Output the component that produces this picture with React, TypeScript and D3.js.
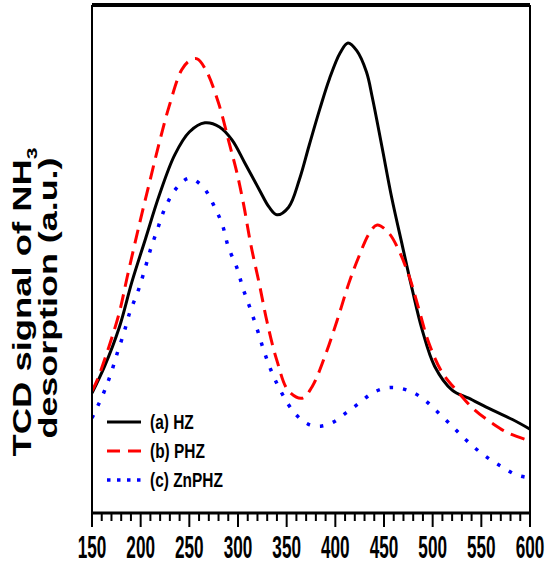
import React from "react";
import * as d3 from "d3";

const temps = [150, 600];
const xTicks = [150, 200, 250, 300, 350, 400, 450, 500, 550, 600];

const hzX = [150, 163, 178, 191, 205, 219, 235, 250, 266, 281, 294, 307, 322, 332, 340, 352, 363, 373, 384, 394, 405, 413, 422, 432, 438, 448, 458, 469, 479, 489, 502, 520, 537, 561, 582, 600];
const hzY = [23.6, 28.9, 36.5, 45.5, 54.0, 62.5, 70.5, 75.0, 76.8, 76.0, 73.4, 68.9, 63.6, 60.2, 58.7, 60.2, 65.6, 72.3, 79.5, 85.5, 90.6, 92.5, 91.0, 86.8, 81.8, 72.0, 62.0, 52.5, 44.0, 36.2, 28.9, 24.2, 22.6, 20.3, 18.4, 16.5];

const phzX = [150, 155, 167, 178, 186, 198, 209, 219, 229, 242, 250, 258, 267, 280, 291, 299, 306, 313, 322, 330, 340, 352, 366, 376, 389, 402, 414, 424, 435, 443, 455, 465, 476, 486, 496, 510, 527, 543, 561, 578, 600];
const phzY = [24.0, 26.0, 32.5, 39.4, 46.3, 56.3, 65.0, 72.8, 79.9, 87.2, 89.0, 89.4, 87.2, 80.7, 72.8, 66.9, 60.5, 53.0, 45.0, 37.5, 30.0, 24.0, 22.6, 24.8, 30.7, 38.0, 45.3, 50.4, 55.1, 56.7, 55.1, 51.8, 46.5, 40.0, 33.5, 27.6, 23.6, 20.3, 17.7, 15.7, 14.2];

const znX = [150, 161, 169, 176, 183, 189, 197, 204, 210, 217, 225, 237, 250, 264, 275, 284, 290, 299, 305, 313, 320, 327, 335, 345, 358, 372, 385, 398, 411, 425, 438, 452, 465, 479, 492, 505, 519, 532, 546, 560, 573, 586, 600];
const znY = [18.7, 23.2, 27.2, 31.5, 35.6, 39.6, 43.5, 47.8, 51.8, 55.7, 60.0, 64.0, 65.9, 64.2, 60.6, 56.7, 52.4, 48.2, 44.3, 40.0, 36.0, 31.7, 27.6, 23.6, 19.7, 17.5, 17.1, 17.9, 19.7, 21.7, 23.6, 24.6, 24.6, 23.8, 22.2, 19.9, 17.3, 14.8, 12.4, 10.4, 8.9, 7.5, 6.9];

const seriesNames = ["(a) HZ", "(b) PHZ", "(c) ZnPHZ"];
const seriesColors = ["#000000", "#ff0000", "#0000ff"];

export default function App() {
  const L = 92, R = 530, T = 5, B = 513;
  const x = d3.scaleLinear().domain(temps).range([L, R]);
  const y = d3.scaleLinear().domain([0, 100]).range([B, T]);
  const line = d3
    .line<[number, number]>()
    .x((d) => x(d[0]))
    .y((d) => y(d[1]))
    .curve(d3.curveCatmullRom.alpha(0.5));
  const zip = (a: number[], b: number[]) => a.map((v, i) => [v, b[i]] as [number, number]);
  const series = [zip(hzX, hzY), zip(phzX, phzY), zip(znX, znY)];
  const dashes = [undefined, "14,8", "3.5,10"];
  const widths = [3, 3, 3.5];
  const minor = d3.range(150, 601, 10);
  const font = "'Liberation Sans', Arial, sans-serif";

  return (
    <svg width={550} height={565} style={{ position: "absolute", left: 0, top: 0, background: "#fff" }}>
      <rect x={0} y={0} width={550} height={565} fill="#fff" />
      <defs>
        <clipPath id="plot">
          <rect x={L} y={T} width={R - L} height={B - T} />
        </clipPath>
      </defs>
      <g clipPath="url(#plot)">
        {series.map((s, i) => (
          <path
            key={i}
            d={line(s) || ""}
            fill="none"
            stroke={seriesColors[i]}
            strokeWidth={widths[i]}
            strokeDasharray={dashes[i]}
          />
        ))}
      </g>
      {/* frame */}
      <line x1={L} x2={R} y1={T} y2={T} stroke="#000" strokeWidth={4} />
      <line x1={L} x2={L} y1={T} y2={B} stroke="#000" strokeWidth={2} />
      <line x1={R} x2={R} y1={T} y2={B} stroke="#000" strokeWidth={2} />
      <line x1={L - 1} x2={R + 1} y1={B} y2={B} stroke="#000" strokeWidth={3} />
      {minor.map((v) => (
        <line key={"m" + v} x1={x(v)} x2={x(v)} y1={B} y2={B + (v % 50 === 0 ? 14 : 8)} stroke="#000" strokeWidth={2} />
      ))}
      {xTicks.map((v) => (
        <g key={"t" + v} transform={`translate(${x(v)},558) scale(0.78,1.4)`}>
          <text textAnchor="middle" fontFamily={font} fontWeight="bold" fontSize={22} fill="#000">
            {v}
          </text>
        </g>
      ))}
      {/* y label */}
      <g transform="translate(31,302) rotate(-90) scale(1.4,1)">
        <text textAnchor="middle" fontFamily={font} fontWeight="bold" fontSize={26} fill="#000">
          TCD signal of NH<tspan fontSize={15} dy={6}>3</tspan>
        </text>
      </g>
      <g transform="translate(57,298) rotate(-90) scale(1.38,1)">
        <text textAnchor="middle" fontFamily={font} fontWeight="bold" fontSize={26} fill="#000">
          desorption (a.u.)
        </text>
      </g>
      {/* legend */}
      {seriesNames.map((n, i) => (
        <g key={n}>
          <line x1={107} x2={141} y1={422 + i * 29} y2={422 + i * 29} stroke={seriesColors[i]} strokeWidth={widths[i]} strokeDasharray={i === 1 ? "13,8" : i === 2 ? "3.5,6.5" : undefined} />
          <g transform={`translate(150,${429 + i * 29}) scale(1.03,1.3)`}>
            <text fontFamily={font} fontWeight="bold" fontSize={15} fill="#000">
              {n}
            </text>
          </g>
        </g>
      ))}
    </svg>
  );
}
